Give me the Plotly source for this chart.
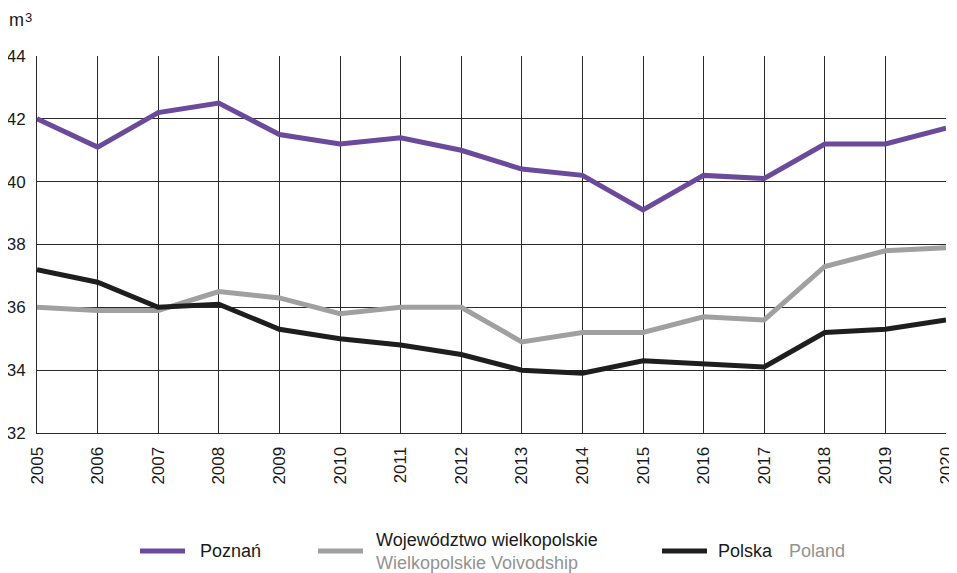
import plotly.graph_objects as go

# --- DATA ---
years = list(range(2005, 2021))
poznan = [42.0, 41.1, 42.2, 42.5, 41.5, 41.2, 41.4, 41.0, 40.4, 40.2, 39.1, 40.2, 40.1, 41.2, 41.2, 41.7]
wielkopolskie = [36.0, 35.9, 35.9, 36.5, 36.3, 35.8, 36.0, 36.0, 34.9, 35.2, 35.2, 35.7, 35.6, 37.3, 37.8, 37.9]
polska = [37.2, 36.8, 36.0, 36.1, 35.3, 35.0, 34.8, 34.5, 34.0, 33.9, 34.3, 34.2, 34.1, 35.2, 35.3, 35.6]

C_POZ = '#6c4a9b'
C_WLKP = '#a0a0a0'
C_PL = '#1e1e1e'
C_EN = '#939393'
FONT = 'Liberation Sans, Arial, sans-serif'

# page body has an 8px margin, so the figure is shrunk to fit the window
W, H = 949, 565
L, T, R, B = 29, 48, 11, 140
PW, PH = W - L - R, H - T - B


def px(x):  # page x -> paper
    return (x - 8 - L) / PW


def py(y):  # page y -> paper
    return (H - B + 8 - y) / PH


fig = go.Figure()
for vals, col, name in [(wielkopolskie, C_WLKP, 'Wielkopolskie'),
                        (polska, C_PL, 'Polska'),
                        (poznan, C_POZ, 'Poznań')]:
    fig.add_trace(go.Scatter(x=years, y=vals, mode='lines', name=name,
                             line=dict(color=col, width=5), showlegend=False))

fig.update_layout(
    width=W, height=H,
    margin=dict(l=L, r=R, t=T, b=B, autoexpand=False),
    plot_bgcolor='white', paper_bgcolor='white',
    font=dict(family=FONT, size=17, color='#1a1a1a'),
    showlegend=False,
)
fig.update_xaxes(range=[2005, 2020], dtick=1, tickangle=-90, showgrid=True,
                 gridcolor='#2a2a2a', gridwidth=1, showline=True, linecolor='#2a2a2a',
                 linewidth=1, zeroline=False, ticks='', ticklabelstandoff=6, automargin=False,
                 ticklabeloverflow='allow')
fig.update_yaxes(range=[32, 44], dtick=2, showgrid=True, gridcolor='#2a2a2a', gridwidth=1,
                 showline=True, linecolor='#2a2a2a', linewidth=1, zeroline=False, ticks='',
                 ticklabelstandoff=7, automargin=False, ticklabeloverflow='allow')

# unit label (m + raised 3)
fig.add_annotation(text='m', xref='paper', yref='paper', x=px(7), y=py(20),
                   xanchor='left', yanchor='middle', showarrow=False, font=dict(size=18))
fig.add_annotation(text='3', xref='paper', yref='paper', x=px(23), y=py(8),
                   xanchor='left', yanchor='top', showarrow=False, font=dict(size=13))

# manual legend: (colour, sample x0, text x, Polish text, English text, two lines?)
legend_items = [
    (C_POZ, 140, 198, 'Poznań', None, False),
    (C_WLKP, 318, 374, 'Województwo wielkopolskie', 'Wielkopolskie Voivodship', True),
    (C_PL, 662, 716, 'Polska', 'Poland', False),
]
ly = 551
for col, x0, tx, t1, t2, two in legend_items:
    fig.add_shape(type='line', xref='paper', yref='paper',
                  x0=px(x0), x1=px(x0 + 45), y0=py(ly), y1=py(ly),
                  line=dict(color=col, width=5))
    if two:
        txt = t1 + '<br><span style="color:' + C_EN + '">' + t2 + '</span>'
    else:
        txt = t1
    fig.add_annotation(text=txt, xref='paper', yref='paper', x=px(tx),
                       y=py(ly), xanchor='left', yanchor='middle', align='left',
                       showarrow=False, font=dict(size=18, color='#1a1a1a'))
    if t2 is not None and not two:
        fig.add_annotation(text=t2, xref='paper', yref='paper', x=px(787),
                           y=py(ly), xanchor='left', yanchor='middle', align='left',
                           showarrow=False, font=dict(size=18, color=C_EN))

fig.write_html('out.html')
